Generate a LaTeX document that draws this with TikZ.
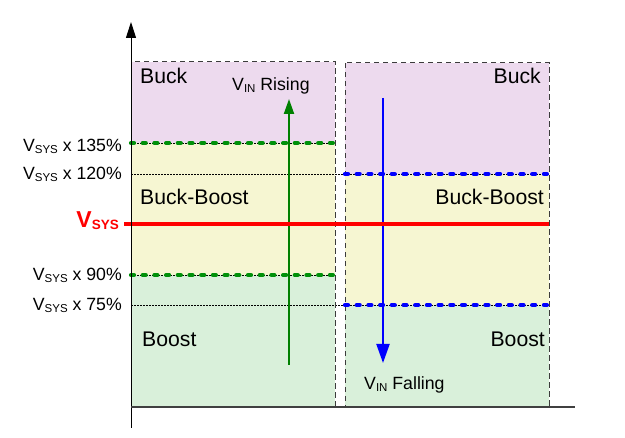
\documentclass[tikz,border=0pt]{standalone}
\usepackage{fontspec}
\setmainfont{Liberation Sans}
\usetikzlibrary{arrows.meta}
\definecolor{buckc}{RGB}{237,218,238}
\definecolor{bbc}{RGB}{246,246,210}
\definecolor{boostc}{RGB}{217,240,218}
\definecolor{gline}{RGB}{0,128,0}
\definecolor{gdashc}{RGB}{0,145,10}
\definecolor{bline}{RGB}{0,0,255}
\definecolor{rline}{RGB}{255,0,0}
\definecolor{boxc}{RGB}{60,60,60}
\newcommand\subt[1]{\raisebox{-0.1em}{\fontsize{11.5}{12}\selectfont #1}}
\newcommand\subbig[1]{\raisebox{-0.1em}{\fontsize{13.5}{15}\selectfont\bfseries #1}}
\tikzset{
  lbl/.style={inner sep=0pt, font=\fontsize{21.2}{23}\selectfont},
  small/.style={inner sep=0pt, font=\fontsize{17.7}{19}\selectfont},
  regbox/.style={draw=boxc, dash pattern=on 5.5pt off 3.5pt, line width=1pt},
  thr/.style={black, dash pattern=on 1.5pt off 1.5pt, line width=0.8pt},
  gdash/.style={gdashc, line width=4.2pt, line cap=round, dash pattern=on 3pt off 8.7pt},
  bdash/.style={bline, line width=4.2pt, line cap=round, dash pattern=on 3pt off 8.7pt},
}
\begin{document}
\begin{tikzpicture}[x=1pt,y=-1pt]
\useasboundingbox (0,0) rectangle (625,438);
% fills
\fill[buckc] (131,62) rectangle (335,143);
\fill[bbc] (131,143) rectangle (335,275);
\fill[boostc] (131,275) rectangle (335,407);
\fill[buckc] (345,63) rectangle (549,174);
\fill[bbc] (345,174) rectangle (549,305);
\fill[boostc] (345,305) rectangle (549,407);
% coordinates
\coordinate (t1l) at (131,143); \coordinate (t1r) at (335,143);
\coordinate (t2l) at (131,174); \coordinate (t2r) at (549,174);
\coordinate (t2m) at (345,174);
\coordinate (t3l) at (131,275); \coordinate (t3r) at (335,275);
\coordinate (t4l) at (131,305); \coordinate (t4r) at (549,305);
\coordinate (t4m) at (345,305);
% thin dotted threshold lines
\draw[thr] (t1l) -- (t1r);
\draw[thr] (t2l) -- (t2r);
\draw[thr] (t3l) -- (t3r);
\draw[thr] (t4l) -- (t4r);
% region boxes
\draw[regbox] (131,62) rectangle (335,407);
\draw[regbox] (345,63) rectangle (549,407);
% thresholds
\draw[gdash] (t1l) -- (t1r);
\draw[gdash] (t3l) -- (t3r);
\draw[bdash] (t2m) -- (t2r);
\draw[bdash] (t4m) -- (t4r);
% arrows
\coordinate (gs) at (289,365); \coordinate (ge) at (289,99);
\draw[gline, line width=2pt, -{Triangle[length=15pt,width=10pt]}] (gs) -- (ge);
\coordinate (bs) at (383,98); \coordinate (be) at (383,363);
\draw[bline, line width=2pt, -{Triangle[length=19pt,width=13pt]}] (bs) -- (be);
% red vsys line
\coordinate (rl) at (124,224); \coordinate (rr) at (549,224);
\draw[rline, line width=3.3pt] (rl) -- (rr);
% axes
\coordinate (o) at (131,428); \coordinate (ytop) at (131,22);
\coordinate (xl) at (131,407); \coordinate (xr) at (575,407);
\draw[black, line width=1pt, -{Triangle[length=16pt,width=10pt]}] (o) -- (ytop);
\draw[black!75, line width=1.2pt] (xl) -- (xr);
% labels
\node[lbl, anchor=base west] (buckL) at (140,83.3) {Buck};
\node[lbl, anchor=base east] (buckR) at (541,83.3) {Buck};
\node[lbl, anchor=base west] (bbL) at (140,205) {Buck-Boost};
\node[lbl, anchor=base east] (bbR) at (544,205) {Buck-Boost};
\node[lbl, anchor=base west] (boL) at (142,346.7) {Boost};
\node[lbl, anchor=base east] (boR) at (545,346.7) {Boost};
\node[small, anchor=base west] (rise) at (232,91) {V\subt{IN} Rising};
\node[small, anchor=base west] (fall) at (364,390) {V\subt{IN} Falling};
\node[small, anchor=base east] (l135) at (122,151.7) {V\subt{SYS} x 135\%};
\node[small, anchor=base east] (l120) at (122,180) {V\subt{SYS} x 120\%};
\node[small, anchor=base east] (l90) at (122,280.7) {V\subt{SYS} x 90\%};
\node[small, anchor=base east] (l75) at (122,311) {V\subt{SYS} x 75\%};
\node[inner sep=0pt, anchor=base east, text=rline, font=\fontsize{23}{25}\selectfont\bfseries] (vsys) at (119,227.7) {V\subbig{SYS}};
\end{tikzpicture}
\end{document}
